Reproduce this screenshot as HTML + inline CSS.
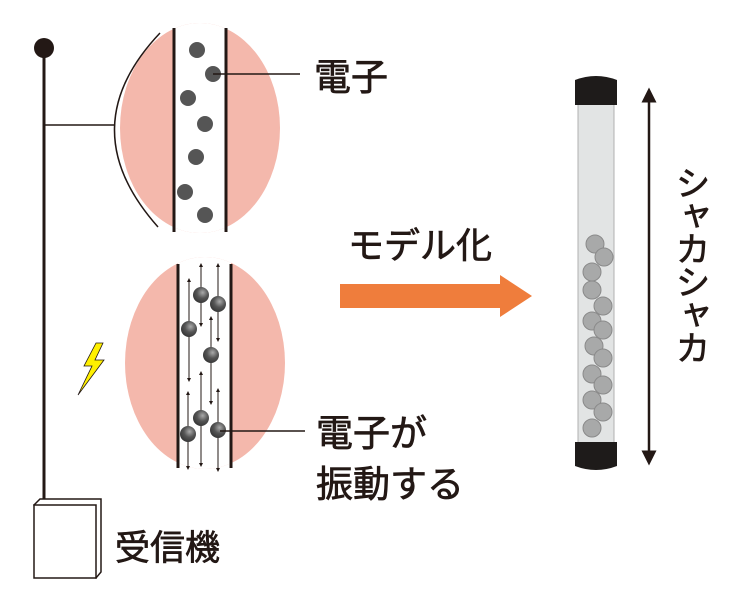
<!DOCTYPE html>
<html><head><meta charset="utf-8"><style>
html,body{margin:0;padding:0;background:#fff;width:733px;height:589px;overflow:hidden}
text{font-family:"Liberation Sans","Noto Sans CJK JP",sans-serif;fill:#231815;stroke:#231815;stroke-width:0.7}
</style></head><body>
<svg width="733" height="589" viewBox="0 0 733 589" xmlns="http://www.w3.org/2000/svg">
<defs>
<radialGradient id="b" cx="0.6" cy="0.35" r="0.7"><stop offset="0" stop-color="#aaa"/><stop offset="0.5" stop-color="#555"/><stop offset="1" stop-color="#333"/></radialGradient>
<marker id="ah" viewBox="0 0 10 10" refX="5" refY="5" markerWidth="4" markerHeight="4" orient="auto-start-reverse"><path d="M0,0L10,5L0,10z" fill="#231815"/></marker>
<marker id="ah2" viewBox="0 0 10 10" refX="5" refY="5" markerWidth="6" markerHeight="6" orient="auto-start-reverse"><path d="M0,0L10,5L0,10z" fill="#231815"/></marker>
<clipPath id="c1"><ellipse cx="200" cy="128" rx="80" ry="105"/></clipPath>
<clipPath id="c2"><ellipse cx="205" cy="363" rx="80" ry="106"/></clipPath>
</defs>
<line x1="44" y1="48" x2="44" y2="502" stroke="#231815" stroke-width="3"/>
<circle cx="44" cy="48" r="10" fill="#231815"/>
<line x1="44" y1="125" x2="114" y2="125" stroke="#231815" stroke-width="1.5"/>
<path d="M34,505 L40,499 L101,499 L101,572 L96,578 Z" fill="#fff" stroke="#231815" stroke-width="1.5"/>
<rect x="34" y="505" width="62" height="73" fill="#fff" stroke="#231815" stroke-width="1.5"/>
<text x="115" y="560" font-size="35">受信機</text>
<ellipse cx="200" cy="128" rx="80" ry="105" fill="#f4b8ac"/>
<rect x="174" y="20" width="52" height="220" fill="#fff" clip-path="url(#c1)"/>
<line x1="174" y1="28" x2="174" y2="232" stroke="#231815" stroke-width="3"/>
<line x1="226" y1="28" x2="226" y2="232" stroke="#231815" stroke-width="3"/>
<path d="M160,33 Q70,128 158,227" fill="none" stroke="#231815" stroke-width="1.5"/>
<g fill="#555"><circle cx="197" cy="50" r="8"/><circle cx="213" cy="74" r="8"/><circle cx="188" cy="98" r="8"/><circle cx="205" cy="124" r="8"/><circle cx="196" cy="157" r="8"/><circle cx="185" cy="192" r="8"/><circle cx="205" cy="215" r="8"/></g>
<line x1="213" y1="74" x2="300" y2="74" stroke="#231815" stroke-width="1.5"/>
<text x="314" y="90" font-size="37">電子</text>
<ellipse cx="205" cy="363" rx="80" ry="106" fill="#f4b8ac"/>
<rect x="178" y="250" width="53" height="225" fill="#fff" clip-path="url(#c2)"/>
<line x1="178" y1="264" x2="178" y2="468" stroke="#231815" stroke-width="3"/>
<line x1="231" y1="264" x2="231" y2="468" stroke="#231815" stroke-width="3"/>
<g stroke="#231815" stroke-width="1" marker-start="url(#ah)" marker-end="url(#ah)">
<line x1="189" y1="280" x2="189" y2="380"/><line x1="201" y1="265" x2="201" y2="325"/><line x1="218" y1="265" x2="218" y2="340"/>
<line x1="211" y1="318" x2="211" y2="403"/><line x1="188" y1="393" x2="188" y2="468"/><line x1="201" y1="373" x2="201" y2="465"/><line x1="218" y1="390" x2="218" y2="470"/>
</g>
<g fill="url(#b)"><circle cx="201" cy="295" r="8"/><circle cx="218" cy="304" r="8"/><circle cx="189" cy="329" r="8"/><circle cx="211" cy="355" r="8"/><circle cx="201" cy="418" r="8"/><circle cx="188" cy="434" r="8"/><circle cx="218" cy="430" r="8"/></g>
<line x1="220" y1="431" x2="305" y2="431" stroke="#231815" stroke-width="1.5"/>
<text x="316" y="446" font-size="37">電子が</text>
<text x="316" y="497" font-size="37">振動する</text>
<path d="M96,343 L84,366 L92,366 L78,395 L104,360 L95,360 L103,343 Z" fill="#fff000" stroke="#231815" stroke-width="0.8"/>
<text x="348" y="258" font-size="36">モデル化</text>
<path d="M340,284 L500,284 L500,275 L532,296 L500,317 L500,308 L340,308 Z" fill="#ef7d3c"/>
<rect x="578" y="100" width="36" height="345" fill="#e2e4e4" stroke="#b0b0b0" stroke-width="1"/>
<g fill="#a8a9a9" stroke="#8a8a8a" stroke-width="1">
<circle cx="595" cy="244" r="9"/><circle cx="604" cy="257" r="9"/><circle cx="592" cy="272" r="9"/><circle cx="592" cy="290" r="9"/><circle cx="603" cy="306" r="9"/><circle cx="592" cy="321" r="9"/><circle cx="603" cy="330" r="9"/><circle cx="594" cy="346" r="9"/><circle cx="603" cy="358" r="9"/><circle cx="592" cy="374" r="9"/><circle cx="603" cy="385" r="9"/><circle cx="592" cy="400" r="9"/><circle cx="603" cy="412" r="9"/><circle cx="592" cy="428" r="9"/>
</g>
<path d="M575,80 Q596,72 617,80 L617,105 L575,105 Z" fill="#1e1b1a"/>
<path d="M575,442 L617,442 L617,466 Q596,474 575,466 Z" fill="#1e1b1a"/>
<line x1="649" y1="95" x2="649" y2="458" stroke="#231815" stroke-width="2.5" marker-start="url(#ah2)" marker-end="url(#ah2)"/>
<text x="690" y="165" font-size="35" writing-mode="tb" style="writing-mode:vertical-rl;letter-spacing:-2px">シャカシャカ</text>
</svg>
</body></html>
